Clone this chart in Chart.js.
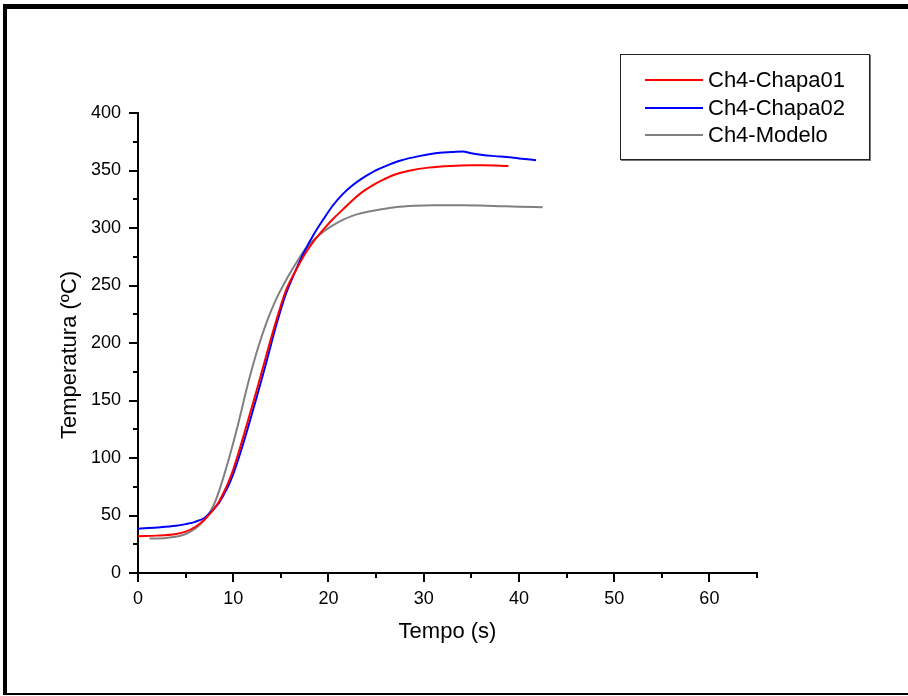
<!DOCTYPE html>
<html>
<head>
<meta charset="utf-8">
<script src="https://cdn.jsdelivr.net/npm/chart.js@4.4.0/dist/chart.umd.min.js"></script>
<style>
  html, body { margin: 0; padding: 0; background: #fff; }
  #wrap { position: relative; width: 908px; height: 696px; }
  #frame {
    position: absolute; left: 3px; top: 4px; width: 905px; height: 691px;
    box-sizing: border-box; border-top: 5px solid #000; border-left: 4px solid #000;
    border-bottom: 2px solid #000; pointer-events: none;
  }
  #legend {
    position: absolute; left: 620px; top: 54px; width: 250px; height: 106px;
    box-sizing: border-box; border: 1px solid #222; box-shadow: 1px 1px 0 #777;
    background: #fff; font-family: Arial, "Liberation Sans", sans-serif; font-size: 22px;
  }
  .row { position: absolute; left: 0; height: 26px; line-height: 26px; }
  .row .swatch { position: absolute; left: 24px; top: 12px; width: 58px; height: 2px; }
  .row .label { position: absolute; left: 87px; top: 0; white-space: nowrap; color: #000; }
  canvas { position: absolute; left: 0; top: 0; }
</style>
</head>
<body>
<div id="wrap">
  <canvas id="chart" width="908" height="696"></canvas>
  <div id="legend"></div>
  <div id="frame"></div>
</div>
<script>
// series data: time (s) and temperature (ºC)
const seriesNames = ['Ch4-Chapa01', 'Ch4-Chapa02', 'Ch4-Modelo'];
const seriesColors = ['#ff0000', '#0000ff', '#808080'];
const xTitle = 'Tempo (s)';
const yTitle = 'Temperatura (ºC)';

const chapa01Time = [0, 2, 4, 5, 6, 7, 7.5, 8, 8.5, 9, 9.5, 10, 10.5, 11.5, 12.5, 13.5, 14.5, 15.5, 16.5, 17.5, 18.5, 19.5, 20.5, 21.5, 22.5, 23.5, 24.5, 25.5, 27, 28.6, 30.5, 32.8, 35, 36.2, 38.9];
const chapa01Temp = [32, 32.5, 34, 36, 40, 46.5, 51, 56, 62, 70, 79, 90, 103, 131, 160, 190, 219, 245, 262, 277, 289, 299, 308, 316, 324, 331, 336.5, 341, 346.5, 350, 352.5, 354, 354.5, 354.5, 354];

const chapa02Time = [0, 2, 4, 5, 6, 7, 7.5, 8, 8.5, 9, 9.5, 10, 10.5, 11.5, 12.5, 13.5, 14.5, 15.5, 16.5, 17.5, 18.5, 19.5, 20.5, 21.5, 22.5, 23.5, 24.5, 25.5, 26.5, 27.5, 29.5, 31.7, 33, 34.1, 35, 36.2, 37.5, 38.7, 40, 41.8];
const chapa02Temp = [38.5, 39.5, 41, 42.5, 44.5, 48, 52, 56, 61, 68, 76, 86, 98, 125, 154, 184, 215, 242, 262, 280, 295, 308, 320, 329.5, 337, 343, 348, 352, 355.5, 358.5, 362.5, 365.5, 366, 366.5, 365, 363.5, 362.5, 361.7, 360.5, 359];

const modeloTime = [1.2, 3, 4.7, 5.5, 6.5, 7.5, 8, 8.5, 9, 9.5, 10.5, 11.5, 12.5, 13.5, 14.5, 15.5, 16.5, 17.5, 18.5, 19.5, 20.5, 21.5, 22.5, 23.5, 25, 27, 29, 31, 33.8, 36, 38, 40, 42.5];
const modeloTemp = [30, 30.5, 33, 36, 42, 52, 60, 71, 84, 98, 129, 163, 193, 218, 238, 254, 268, 281, 290, 297, 302.5, 307, 310.5, 313, 315.5, 318, 319.3, 319.8, 319.7, 319.5, 319, 318.5, 318];

const xMin = 0, xMax = 65, xStep = 10, xMinorStep = 5;
const yMin = 0, yMax = 400, yStep = 50, yMinorStep = 25;

const fontFamily = 'Arial, "Liberation Sans", sans-serif';

function toPoints(xs, ys) {
    return xs.map((x, i) => ({ x: x, y: ys[i] }));
}

const allSeries = [
    toPoints(chapa01Time, chapa01Temp),
    toPoints(chapa02Time, chapa02Temp),
    toPoints(modeloTime, modeloTemp)
];

// legend (html box, top right)
const legend = document.getElementById('legend');
seriesNames.forEach((name, i) => {
    const row = document.createElement('div');
    row.className = 'row';
    row.style.top = (12 + i * 27.5) + 'px';
    const sw = document.createElement('div');
    sw.className = 'swatch';
    sw.style.background = seriesColors[i];
    const lb = document.createElement('span');
    lb.className = 'label';
    lb.textContent = name;
    row.appendChild(sw);
    row.appendChild(lb);
    legend.appendChild(row);
});

// outward major/minor tick marks and axis titles
const axisExtras = {
    id: 'axisExtras',
    afterDraw(chart) {
        const ctx = chart.ctx;
        const xs = chart.scales.x, ys = chart.scales.y;
        const area = chart.chartArea;
        ctx.save();
        ctx.strokeStyle = '#000';
        ctx.lineWidth = 2;
        ctx.beginPath();
        for (let v = xMin; v <= xMax; v += xMinorStep) {
            const px = Math.round(xs.getPixelForValue(v));
            const len = v % xStep === 0 ? 9 : 5;
            ctx.moveTo(px, area.bottom);
            ctx.lineTo(px, area.bottom + len);
        }
        for (let v = yMin; v <= yMax; v += yMinorStep) {
            const py = Math.round(ys.getPixelForValue(v));
            const len = v % yStep === 0 ? 9 : 5;
            ctx.moveTo(area.left, py);
            ctx.lineTo(area.left - len, py);
        }
        ctx.stroke();

        ctx.fillStyle = '#000';
        ctx.font = '22px ' + fontFamily;
        ctx.textAlign = 'center';
        ctx.textBaseline = 'middle';
        ctx.fillText(xTitle, (area.left + area.right) / 2, area.bottom + 59);
        ctx.translate(area.left - 68, (area.top + area.bottom) / 2 + 12);
        ctx.rotate(-Math.PI / 2);
        ctx.fillText(yTitle, 0, 0);
        ctx.restore();
    }
};

new Chart(document.getElementById('chart'), {
    type: 'line',
    data: {
        datasets: allSeries.map((pts, i) => ({
            label: seriesNames[i],
            data: pts,
            borderColor: seriesColors[i],
            borderWidth: 2,
            pointRadius: 0,
            fill: false,
            cubicInterpolationMode: 'monotone'
        }))
    },
    options: {
        responsive: false,
        animation: false,
        layout: { padding: { top: 113, right: 151, left: 0, bottom: 0 } },
        plugins: {
            legend: { display: false },
            tooltip: { enabled: false }
        },
        scales: {
            x: {
                type: 'linear',
                min: xMin,
                max: xMax,
                afterFit(scale) { scale.height = 123; },
                grid: { display: false },
                border: { display: true, color: '#000', width: 2 },
                ticks: {
                    stepSize: xStep,
                    includeBounds: false,
                    color: '#000',
                    padding: 7,
                    maxRotation: 0,
                    font: { family: fontFamily, size: 18 }
                }
            },
            y: {
                type: 'linear',
                min: yMin,
                max: yMax,
                afterFit(scale) { scale.width = 138; },
                grid: { display: false },
                border: { display: true, color: '#000', width: 2 },
                ticks: {
                    stepSize: yStep,
                    color: '#000',
                    padding: 9,
                    font: { family: fontFamily, size: 18 }
                }
            }
        }
    },
    plugins: [axisExtras]
});
</script>
</body>
</html>
